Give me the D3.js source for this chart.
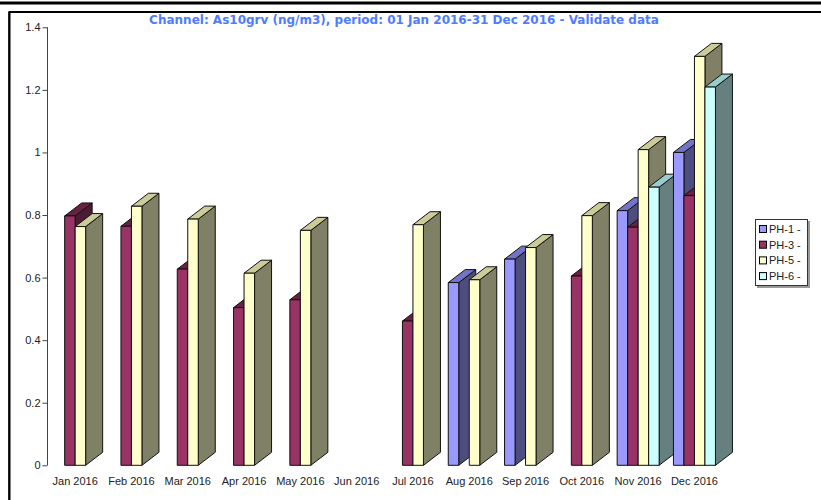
<!DOCTYPE html>
<html>
<head>
<meta charset="utf-8">
<script src="https://cdn.jsdelivr.net/npm/d3@7"></script>
<style>
  body { margin: 0; background: #fff; }
  text { font-family: "Liberation Sans", Arial, sans-serif; }
</style>
</head>
<body>
<div id="chart"></div>
<script>
// data
var months = ["Jan 2016", "Feb 2016", "Mar 2016", "Apr 2016", "May 2016", "Jun 2016",
              "Jul 2016", "Aug 2016", "Sep 2016", "Oct 2016", "Nov 2016", "Dec 2016"];
var seriesNames = ["PH-1 -", "PH-3 -", "PH-5 -", "PH-6 -"];
var ph1 = [null, null, null, null, null, null, null, 0.584, 0.659, null, 0.814, 1.0];
var ph3 = [0.797, 0.764, 0.627, 0.504, 0.529, null, 0.461, null, null, 0.605, 0.761, 0.862];
var ph5 = [0.763, 0.828, 0.787, 0.614, 0.751, null, 0.769, 0.593, 0.696, 0.798, 1.009, 1.307];
var ph6 = [null, null, null, null, null, null, null, null, null, null, 0.889, 1.209];
var yTicks = [0, 0.2, 0.4, 0.6, 0.8, 1, 1.2, 1.4];

var colors = {
  "PH-1 -": { front: "#9999ff", top: "#7373c8", side: "#4d4d80" },
  "PH-3 -": { front: "#993366", top: "#66223f", side: "#4d1a33" },
  "PH-5 -": { front: "#ffffcc", top: "#cccc99", side: "#808066" },
  "PH-6 -": { front: "#ccffff", top: "#99cccc", side: "#668080" }
};

var svgWidth = 821;
var svgHeight = 500;
var depthX = 17, depthY = 13;

var svg = d3.select("#chart")
  .append("svg")
  .attr("width", svgWidth)
  .attr("height", svgHeight);

// frame lines
svg.append("line")
  .attr("x1", 0).attr("x2", svgWidth).attr("y1", 3).attr("y2", 3)
  .attr("stroke", "#000").attr("stroke-width", 3);
svg.append("rect")
  .attr("x", 9.5).attr("y", 12).attr("width", 830).attr("height", 520)
  .attr("fill", "none").attr("stroke", "#000").attr("stroke-width", 2);
svg.append("line")
  .attr("x1", 9).attr("x2", 9).attr("y1", 12).attr("y2", svgHeight)
  .attr("stroke", "#000").attr("stroke-width", 1.5);

// title
svg.append("text")
  .attr("x", 404)
  .attr("y", 24)
  .attr("text-anchor", "middle")
  .style("font-family", "'DejaVu Sans', Verdana, sans-serif")
  .style("font-weight", "bold")
  .style("font-size", "12px")
  .attr("fill", "#4f7bff")
  .text("Channel: As10grv (ng/m3), period: 01 Jan 2016-31 Dec 2016 - Validate data");

// scales
var xScale = d3.scaleBand()
  .domain(months)
  .range([47, 722.6]);

var groupWidth = 42;
var xInner = d3.scaleBand()
  .domain(seriesNames)
  .range([0, groupWidth]);

var yScale = d3.scaleLinear()
  .domain([0, 1.4])
  .range([465.3, 27.3]);

// y axis
var leftAxis = d3.axisLeft(yScale)
  .tickValues(yTicks)
  .tickSize(5)
  .tickFormat(d3.format("~g"));

var yAxisG = svg.append("g")
  .attr("transform", "translate(47.5,0)")
  .call(leftAxis);
yAxisG.select(".domain").attr("stroke", "#444").attr("d", "M0," + yScale(0) + "V" + yScale(1.4));
yAxisG.selectAll(".tick line").attr("stroke", "#444");
yAxisG.selectAll(".tick text")
  .attr("x", -7)
  .style("font-family", "'Liberation Sans', Arial, sans-serif")
  .style("font-size", "11px")
  .attr("fill", "#222");

// month labels
svg.append("g").selectAll("text")
  .data(months)
  .enter()
  .append("text")
  .attr("x", d => xScale(d) + xScale.bandwidth() / 2)
  .attr("y", 485)
  .attr("text-anchor", "middle")
  .style("font-size", "11px")
  .attr("fill", "#222")
  .text(d => d);

// build bars, left to right so 3d sides get covered properly
var allSeries = [ph1, ph3, ph5, ph6];
var bars = [];
months.forEach(function(m, i) {
  seriesNames.forEach(function(s, j) {
    var v = allSeries[j][i];
    if (v != null) bars.push({ month: m, series: s, value: v });
  });
});

var barGroup = svg.append("g");
var bw = xInner.bandwidth();

bars.forEach(function(d) {
  var x0 = xScale(d.month) + (xScale.bandwidth() - groupWidth) / 2 + xInner(d.series);
  var x1 = x0 + bw;
  var yt = yScale(d.value);
  var yb = yScale(0);
  var c = colors[d.series];
  var g = barGroup.append("g")
    .attr("stroke", "#111")
    .attr("stroke-width", 1)
    .attr("stroke-linejoin", "round");

  // side
  g.append("path")
    .attr("d", "M" + x1 + "," + yb + "L" + (x1 + depthX) + "," + (yb - depthY) +
      "L" + (x1 + depthX) + "," + (yt - depthY) + "L" + x1 + "," + yt + "Z")
    .attr("fill", c.side);
  // top
  g.append("path")
    .attr("d", "M" + x0 + "," + yt + "L" + (x0 + depthX) + "," + (yt - depthY) +
      "L" + (x1 + depthX) + "," + (yt - depthY) + "L" + x1 + "," + yt + "Z")
    .attr("fill", c.top);
  // front
  g.append("rect")
    .attr("x", x0)
    .attr("y", yt)
    .attr("width", bw)
    .attr("height", yb - yt)
    .attr("fill", c.front);
});

// legend
var legend = svg.append("g").attr("transform", "translate(755,219)");
legend.append("rect")
  .attr("x", 2).attr("y", 2).attr("width", 53).attr("height", 67)
  .attr("fill", "#999");
legend.append("rect")
  .attr("x", 0.5).attr("y", 0.5).attr("width", 52).attr("height", 66)
  .attr("fill", "#fff").attr("stroke", "#333").attr("stroke-width", 1);

var legendItems = legend.selectAll(".item")
  .data(seriesNames)
  .enter()
  .append("g")
  .attr("transform", (d, i) => "translate(0," + (10 + i * 15.7) + ")");
legendItems.append("rect")
  .attr("x", 4.5).attr("y", -3.5).attr("width", 7).attr("height", 7)
  .attr("fill", d => colors[d].front)
  .attr("stroke", "#000");
legendItems.append("text")
  .attr("x", 14)
  .attr("y", 4)
  .style("font-size", "11px")
  .attr("fill", "#222")
  .text(d => d);
</script>
</body>
</html>
